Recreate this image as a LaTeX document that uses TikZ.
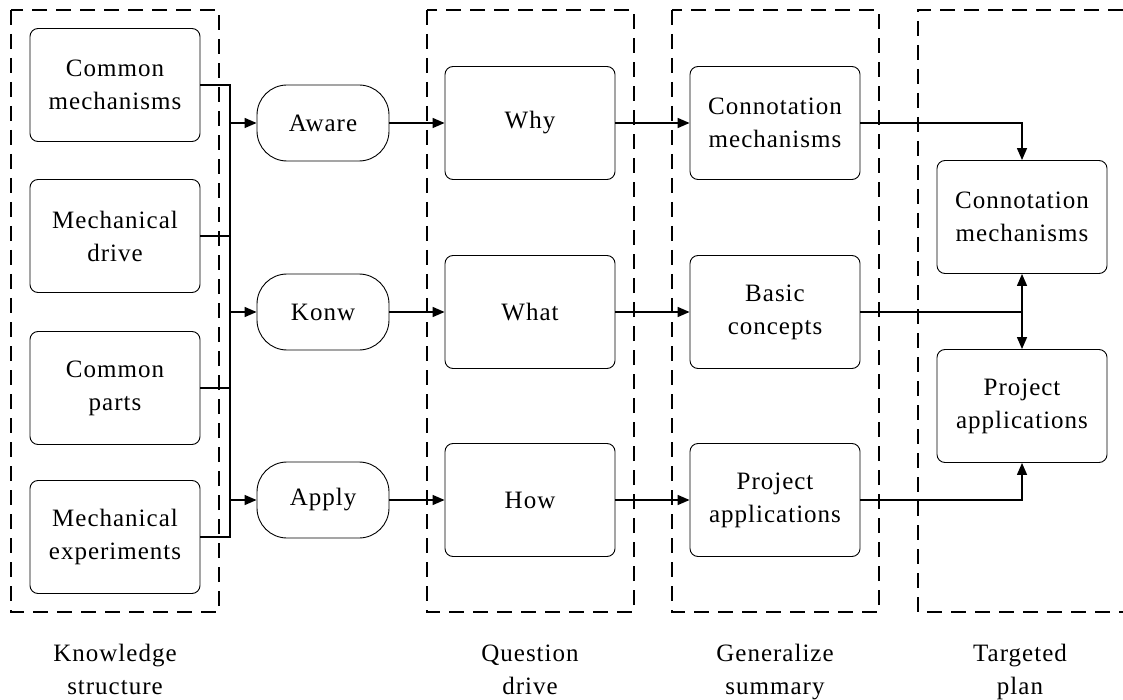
\documentclass[tikz,border=0pt]{standalone}
\usepackage{fontspec}
\setmainfont{Liberation Serif}[LetterSpace=4]
\usetikzlibrary{arrows.meta,positioning}

\begin{document}
\begin{tikzpicture}[x=1pt, y=-1pt,
  font=\fontsize{25}{33}\selectfont,
  box/.style={draw=black, line width=0.9pt, rounded corners=8pt, minimum width=170pt, minimum height=113pt, align=center, inner sep=2pt},
  pill/.style={draw=black, line width=0.9pt, rounded corners=30pt, minimum width=132pt, minimum height=76pt, inner sep=2pt},
  frame/.style={line width=2pt, dash pattern=on 15pt off 9pt},
  link/.style={line width=1.5pt},
  arr/.style={link, -{Triangle[length=12pt, width=10pt]}},
  darr/.style={link, {Triangle[length=12pt, width=10pt]}-{Triangle[length=12pt, width=10pt]}},
  caption/.style={align=center, anchor=north}]
  \useasboundingbox (0,0) rectangle (1123,700);

  %--- Dashed frames ---
  \draw[frame] (11,10) rectangle (219,612);
  \draw[frame] (427,10) rectangle (634,612);
  \draw[frame] (672,10) rectangle (879,612);
  \draw[frame] (1123,10) -- (918,10) -- (918,612) -- (1123,612);

  %--- Knowledge structure ---
  \node[box] (kn1) at (115,85) {Common\\mechanisms};
  \node[box] (kn2) at (115,236) {Mechanical\\drive};
  \node[box] (kn3) at (115,388) {Common\\parts};
  \node[box] (kn4) at (115,537) {Mechanical\\experiments};

  %--- Stages ---
  \node[pill] (aware) at (323,123) {Aware};
  \node[pill] (konw) at (323,312) {Konw};
  \node[pill] (apply) at (323,500) {Apply};

  %--- Question drive ---
  \node[box] (why) at (530,123) {Why};
  \node[box] (what) at (530,312) {What};
  \node[box] (how) at (530,500) {How};

  %--- Generalize summary ---
  \node[box] (conn) at (775,123) {Connotation\\mechanisms};
  \node[box] (basic) at (775,312) {Basic\\concepts};
  \node[box] (proj) at (775,500) {Project\\applications};

  %--- Targeted plan ---
  \node[box] (tconn) at (1022,217) {Connotation\\mechanisms};
  \node[box] (tproj) at (1022,406) {Project\\applications};

  %--- Captions ---
  \node[caption] (cap1) at (115,641) {Knowledge\\structure};
  \node[caption] (cap2) at (530,641) {Question\\drive};
  \node[caption] (cap3) at (775,641) {Generalize\\summary};
  \node[caption] (cap4) at (1020,641) {Targeted\\plan};

  % bus on the left
  \coordinate (btop) at (230,85);
  \coordinate (bbot) at (230,537);
  \draw[link] (kn1.east) -- (btop) -- (bbot) -- (kn4.east);
  \draw[link] (kn2.east) -- (kn2.east -| btop);
  \draw[link] (kn3.east) -- (kn3.east -| btop);
  \draw[arr] (aware.west -| btop) -- (aware.west);
  \draw[arr] (konw.west -| btop) -- (konw.west);
  \draw[arr] (apply.west -| btop) -- (apply.west);

  % rows
  \draw[arr] (aware.east) -- (why.west);
  \draw[arr] (konw.east) -- (what.west);
  \draw[arr] (apply.east) -- (how.west);
  \draw[arr] (why.east) -- (conn.west);
  \draw[arr] (what.east) -- (basic.west);
  \draw[arr] (how.east) -- (proj.west);

  % to the plan
  \draw[arr] (conn.east) -| (tconn.north);
  \draw[link] (basic.east) -- (basic.east -| tconn.south);
  \draw[darr] (tconn.south) -- (tproj.north);
  \draw[arr] (proj.east) -| (tproj.south);
\end{tikzpicture}
\end{document}
